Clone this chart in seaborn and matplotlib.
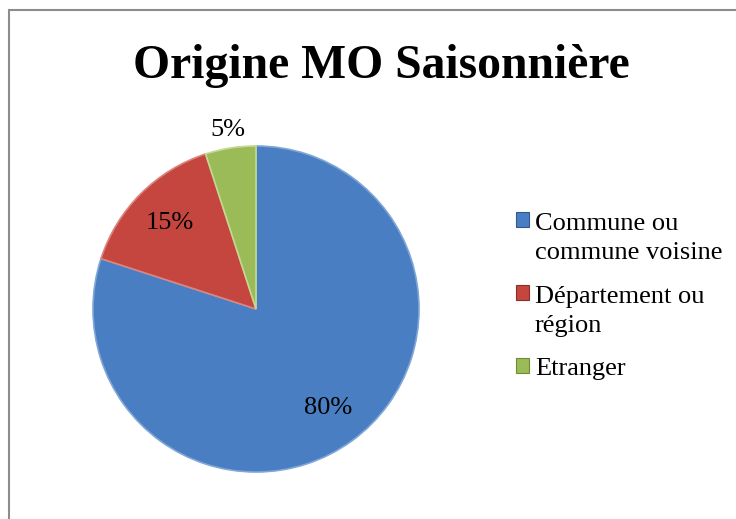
import matplotlib
matplotlib.use("Agg")
import numpy as np
import matplotlib.pyplot as plt
import seaborn as sns
from matplotlib.patches import Rectangle
from matplotlib.legend_handler import HandlerPatch

# Data
categories = ["Commune ou\ncommune voisine", "Département ou\nrégion", "Etranger"]
shares = [80, 15, 5]
title = "Origine MO Saisonnière"

sns.set_theme(style="white")
plt.rcParams['font.family'] = ['Liberation Serif', 'DejaVu Serif']
plt.rcParams['text.color'] = 'black'

colors = ["#4A7EC2", "#C4463F", "#9BBB59"]
edges = ["#7FA6D6", "#DC8580", "#C3DA8E"]

fig = plt.figure(figsize=(7.36, 5.19), dpi=100)

# outer chart frame (runs off right and bottom edges)
fig.patches.append(Rectangle((9 / 736, -0.1), 1.0, (519 - 10) / 519 + 0.1,
                             transform=fig.transFigure, fill=False,
                             edgecolor="#8c8c8c", linewidth=1.5))

ax = fig.add_axes([93 / 736, 47 / 519, 326 / 736, 326 / 519])
wedges, texts, autotexts = ax.pie(
    shares, colors=colors, startangle=90, counterclock=False,
    autopct=lambda p: f"{p:.0f}%", pctdistance=0.75,
    wedgeprops=dict(linewidth=1.2),
    textprops=dict(fontsize=19, color="black"))
for w, ec in zip(wedges, edges):
    w.set_edgecolor(ec)
ax.set_xlim(-1, 1)
ax.set_ylim(-1, 1)

# small slice label sits outside the pie
w = wedges[2]
ang = np.deg2rad((w.theta1 + w.theta2) / 2)
autotexts[2].set_position((1.11 * np.cos(ang), 1.11 * np.sin(ang)))

fig.text(0.518, 0.872, title, ha="center", va="center",
         fontsize=34.3, fontweight="bold")


def square_handler(shift):
    # square marker aligned with the first line of the label
    def make(legend, orig_handle, xdescent, ydescent, width, height, fontsize):
        return Rectangle((-xdescent, -ydescent + shift), width, height)
    return HandlerPatch(patch_func=make)


hmap = {}
for w, lab in zip(wedges, categories):
    hmap[w] = square_handler(13.0 * lab.count("\n"))

leg = fig.legend(wedges, categories, loc="upper left",
                 bbox_to_anchor=(492 / 736, 1 - 189 / 519),
                 frameon=False, fontsize=19, handlelength=0.5,
                 handleheight=0.5, handletextpad=0.23, labelspacing=0.8,
                 handler_map=hmap)
for t in leg.get_texts():
    t.set_linespacing(1.45)
for h, ec in zip(leg.legend_handles, ["#2F5A91", "#8E2E2A", "#6E8C33"]):
    h.set_edgecolor(ec)
    h.set_linewidth(0.8)

fig.savefig("out.png", dpi=100)
